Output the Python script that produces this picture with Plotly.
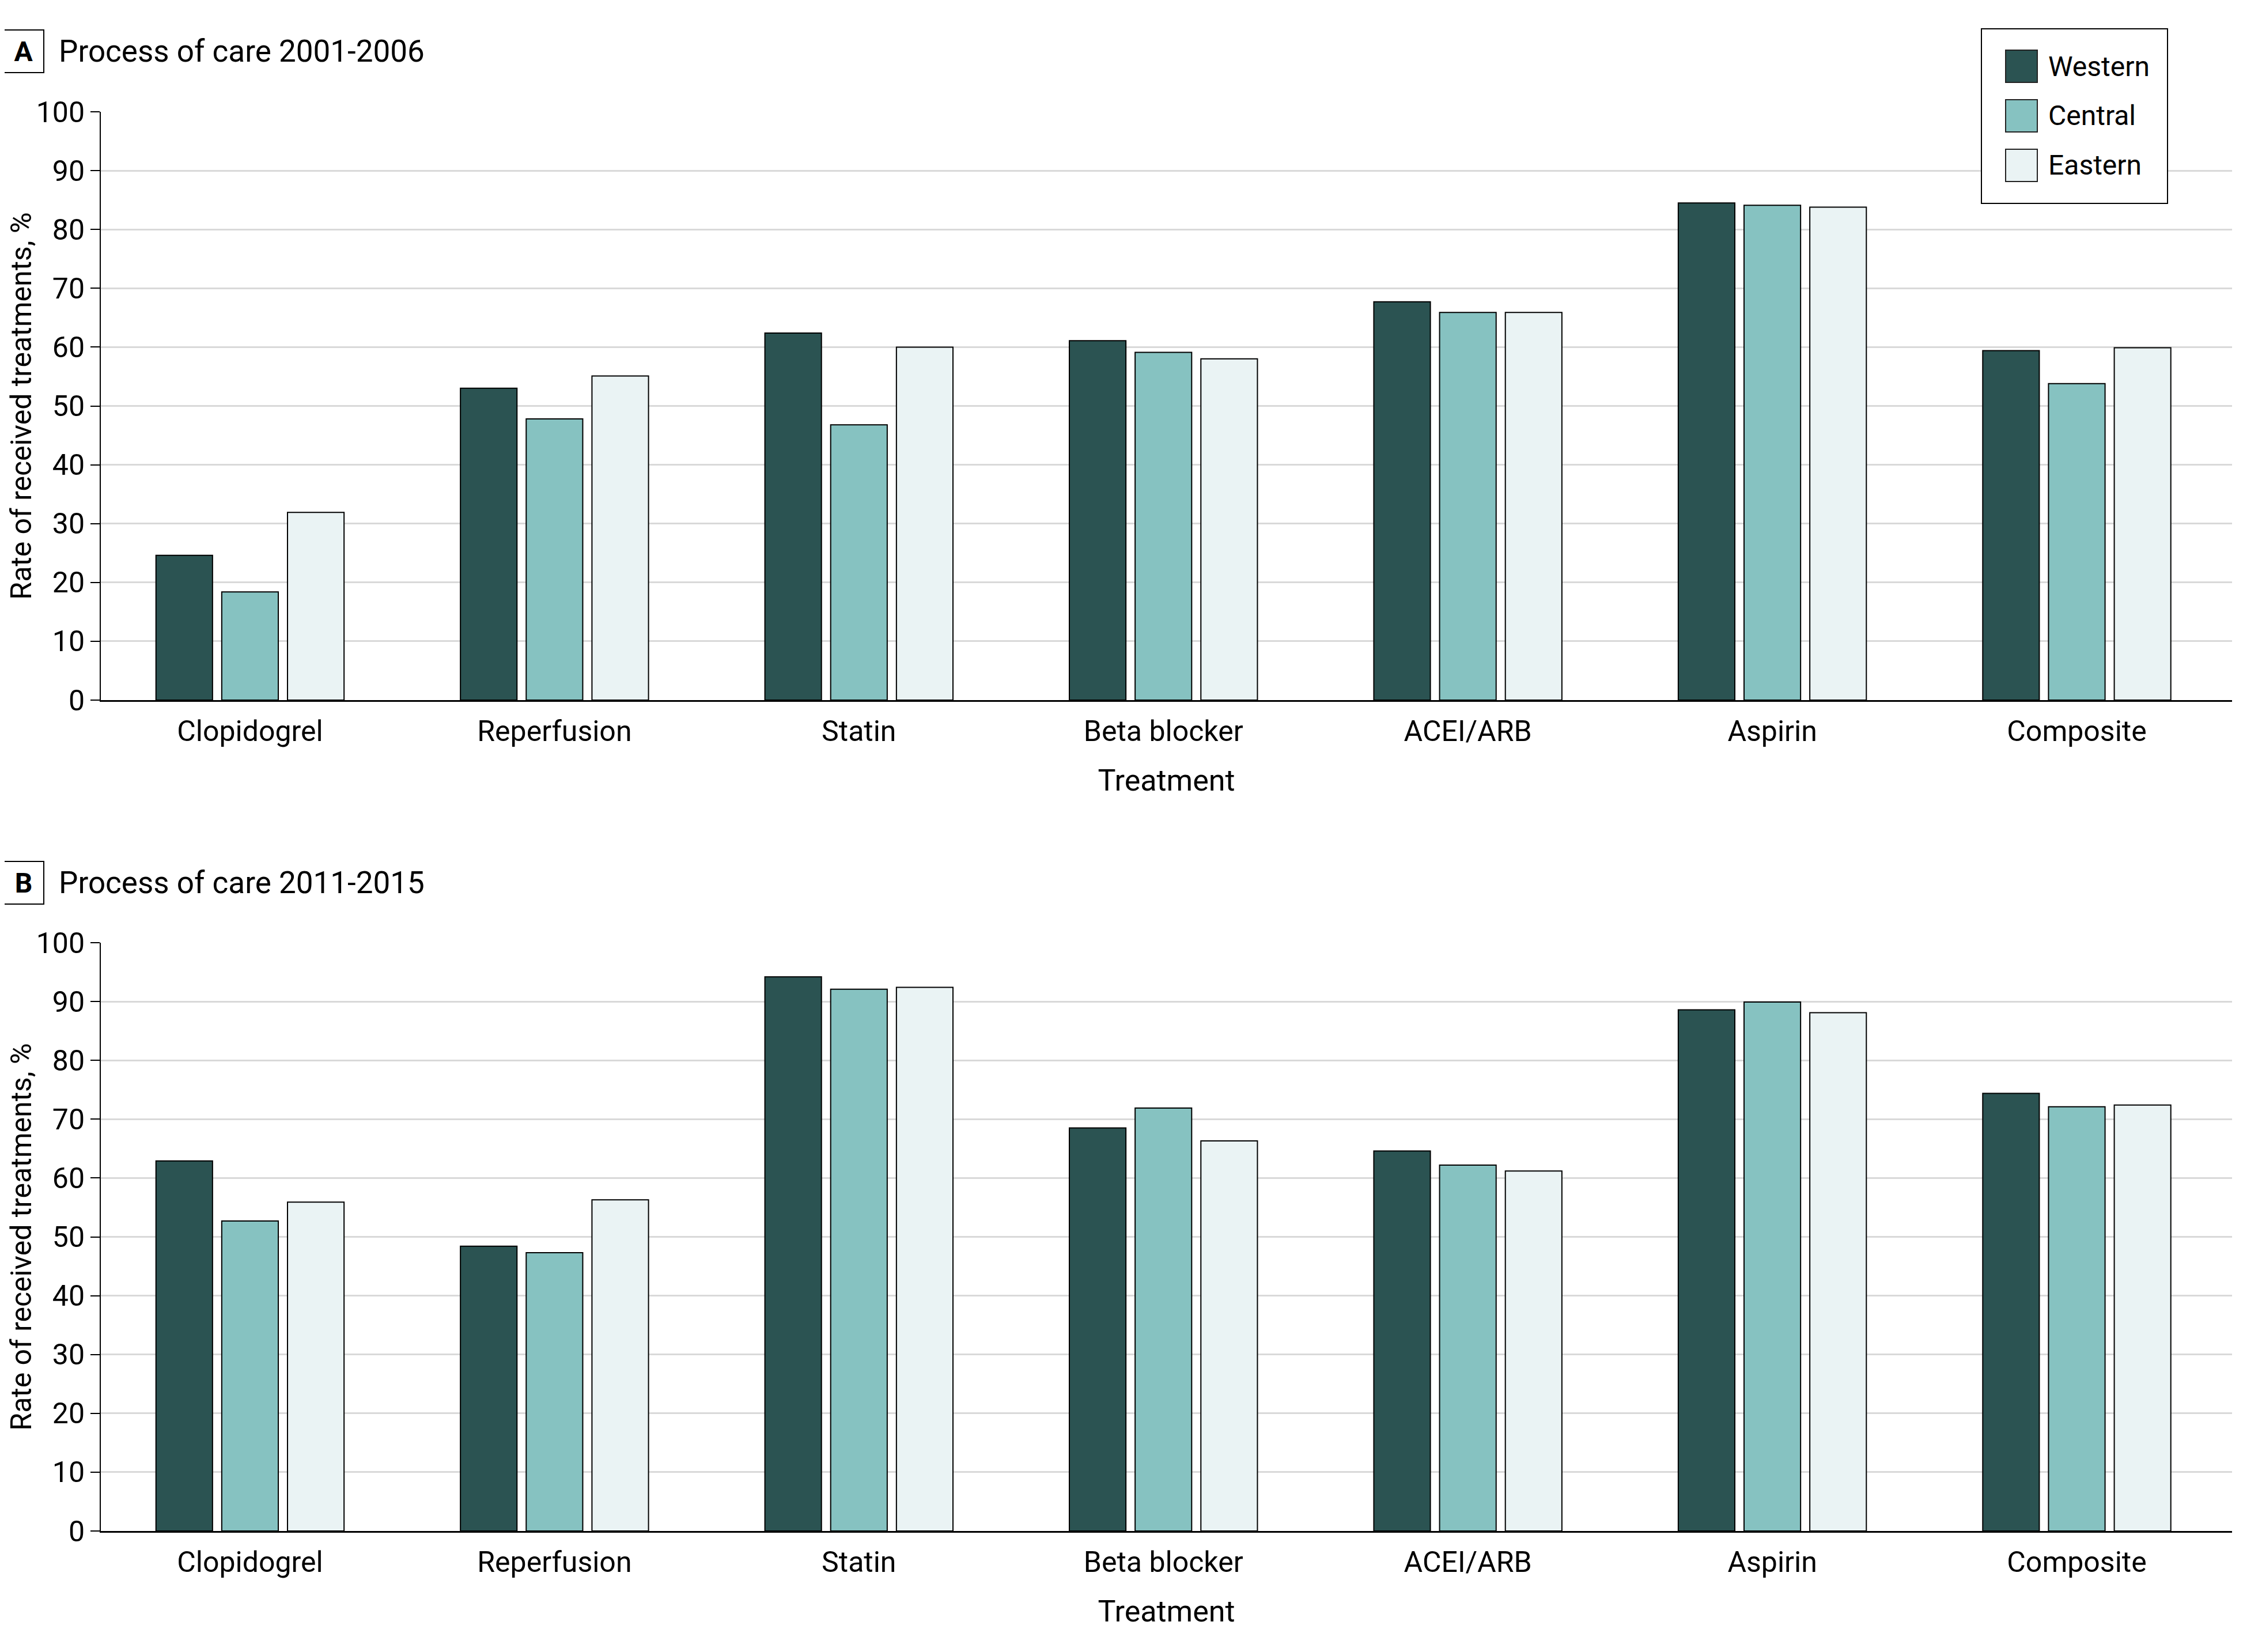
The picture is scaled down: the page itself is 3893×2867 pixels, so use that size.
import plotly.graph_objects as go

W, H = 3893, 2867
OFF = 8  # page body margin offset

categories = ["Clopidogrel", "Reperfusion", "Statin", "Beta blocker", "ACEI/ARB", "Aspirin", "Composite"]
regions = ["Western", "Central", "Eastern"]
colors = ["#2B5352", "#86C2C1", "#EAF3F4"]

# Panel A: 2001-2006
a_western = [24.6, 53.0, 62.4, 61.1, 67.7, 84.5, 59.4]
a_central = [18.4, 47.8, 46.8, 59.1, 65.9, 84.1, 53.8]
a_eastern = [31.9, 55.1, 60.0, 58.0, 65.9, 83.8, 59.9]

# Panel B: 2011-2015
b_western = [62.9, 48.4, 94.2, 68.5, 64.6, 88.6, 74.4]
b_central = [52.7, 47.3, 92.1, 71.9, 62.2, 89.9, 72.1]
b_eastern = [55.9, 56.3, 92.4, 66.3, 61.2, 88.1, 72.4]

y_ticks = list(range(0, 101, 10))
panel_titles = ["Process of care 2001-2006", "Process of care 2011-2015"]
panel_letters = ["A", "B"]
y_title = "Rate of received treatments, %"
x_title = "Treatment"

FONT = "Roboto"
fig = go.Figure()

panels = [(a_western, a_central, a_eastern), (b_western, b_central, b_eastern)]
for p, series in enumerate(panels):
    xa = "x" if p == 0 else "x2"
    ya = "y" if p == 0 else "y2"
    for name, vals, col in zip(regions, series, colors):
        fig.add_trace(go.Bar(
            x=list(range(len(categories))), y=vals, name=name,
            marker=dict(color=col, line=dict(color="black", width=2)),
            xaxis=xa, yaxis=ya, showlegend=False,
        ))

def px_y(y):
    return 1 - (y - OFF) / H

def px_x(x):
    return (x - OFF) / W

x_dom = [px_x(175), px_x(3874)]
ydomA = [px_y(1215), px_y(194)]
ydomB = [px_y(2657), px_y(1636)]

xaxis_common = dict(
    domain=x_dom, range=[-0.49, 6.51], automargin=False,
    tickmode="array", tickvals=list(range(len(categories))), ticktext=categories,
    showline=True, linecolor="black", linewidth=3, ticks="", showgrid=False, zeroline=False,
    ticklabelstandoff=8,
    tickfont=dict(family=FONT, size=50, color="black"),
    title=dict(text=x_title, font=dict(family=FONT, size=52, color="black"), standoff=39),
)
yaxis_common = dict(
    range=[0, 100], tickmode="array", tickvals=y_ticks, automargin=False,
    showline=True, linecolor="black", linewidth=2,
    ticks="outside", ticklen=16, tickwidth=2, tickcolor="black",
    showgrid=True, gridcolor="#D9D9D9", gridwidth=3, zeroline=False,
    tickfont=dict(family=FONT, size=50, color="black"),
    title=dict(text=y_title, font=dict(family=FONT, size=50, color="black"), standoff=21),
)

fig.update_layout(
    width=W, height=H, margin=dict(l=0, r=0, t=0, b=0, autoexpand=False),
    paper_bgcolor="white", plot_bgcolor="white",
    barmode="group", bargap=0.352, bargroupgap=0.14,
    font=dict(family=FONT, size=50, color="black"),
    xaxis=dict(anchor="y", **xaxis_common),
    yaxis=dict(anchor="x", domain=ydomA, **yaxis_common),
    xaxis2=dict(anchor="y2", **xaxis_common),
    yaxis2=dict(anchor="x2", domain=ydomB, **yaxis_common),
)

annotations = []
shapes = []
for letter, title, cy in zip(panel_letters, panel_titles, [89, 1532]):
    annotations.append(dict(
        x=px_x(41), y=px_y(cy), xref="paper", yref="paper",
        text=f"<b>{letter}</b>", showarrow=False, xanchor="center", yanchor="middle",
        font=dict(family=FONT, size=48, color="black"),
        bordercolor="black", borderwidth=2, borderpad=0, width=68, height=72,
    ))
    annotations.append(dict(
        x=px_x(100), y=px_y(cy), xref="paper", yref="paper",
        text=title, showarrow=False, xanchor="left", yanchor="middle",
        font=dict(family=FONT, size=53, color="black"),
    ))

# Legend (drawn manually for large swatches)
shapes.append(dict(type="rect", xref="paper", yref="paper",
                   x0=px_x(3439), x1=px_x(3762), y0=px_y(353), y1=px_y(50),
                   line=dict(color="black", width=2), fillcolor="white", layer="above"))
for i, (name, col) in enumerate(zip(regions, colors)):
    cy = 115 + 86 * i
    shapes.append(dict(type="rect", xref="paper", yref="paper",
                       x0=px_x(3481), x1=px_x(3536), y0=px_y(cy + 28), y1=px_y(cy - 28),
                       line=dict(color="#222222", width=2), fillcolor=col, layer="above"))
    annotations.append(dict(
        x=px_x(3553), y=px_y(cy), xref="paper", yref="paper",
        text=name, showarrow=False, xanchor="left", yanchor="middle",
        font=dict(family=FONT, size=48, color="black"),
    ))

fig.update_layout(annotations=annotations, shapes=shapes)
fig.write_html("out.html")
